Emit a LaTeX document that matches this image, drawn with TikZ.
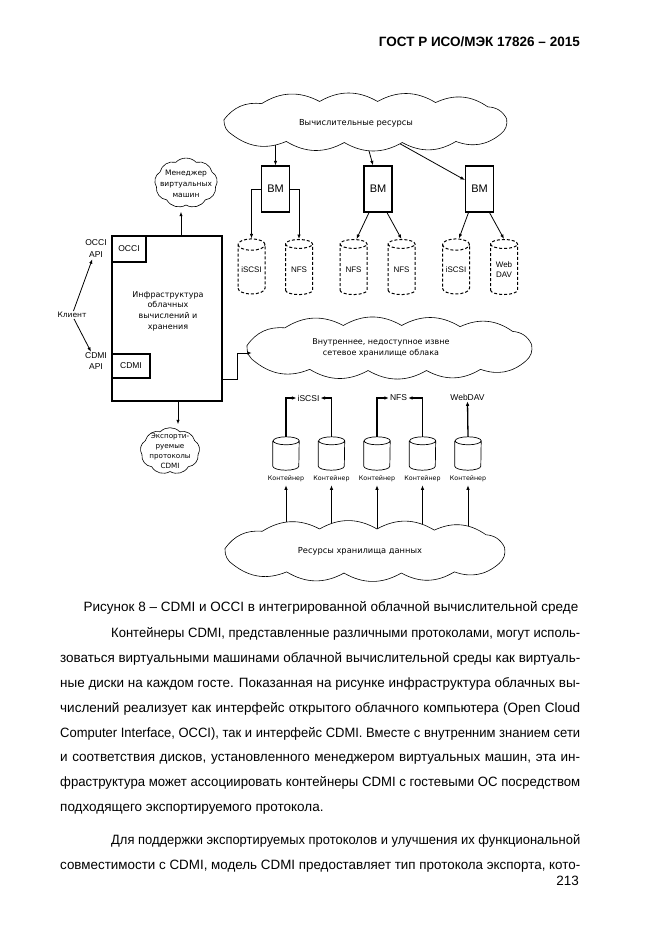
\documentclass[tikz,border=0pt]{standalone}
\usepackage{graphicx}
\usepackage{fontspec}
\setmainfont{Liberation Sans}
\newfontfamily\dejavu{DejaVu Sans}
\usetikzlibrary{shapes.geometric,arrows.meta,backgrounds}
\newsavebox\jbox
\newcommand\jl[2]{\sbox\jbox{#2}\ifdim\wd\jbox>#1\relax\resizebox{#1}{\height}{\usebox\jbox}\else\makebox[#1][s]{#2}\fi}
% small cloud: cx, cy, rx, ry, number of puffs, start angle, bend
\newcommand\drawcloud[7]{%
  \filldraw[cloudline] ({#1+#3*cos(#6)},{#2+#4*sin(#6)})
   \foreach \k in {1,...,#5}{ to[bend left=#7] ({#1+#3*cos(#6+360*\k/#5)},{#2+#4*sin(#6+360*\k/#5)}) } -- cycle;}
% wide cloud: cx, cy, rx, ry
\newcommand\widecloud[4]{%
  \filldraw[cloudline] ({#1+0.97*#3},{#2-0.15*#4})
   \foreach \px/\py in {0.93/0.55, 0.62/0.90, 0.25/0.95, -0.15/0.95, -0.55/0.90, -0.92/0.60, -0.98/-0.10, -0.72/-0.85, -0.32/-0.95, 0.08/-0.95, 0.48/-0.90, 0.84/-0.70, 0.97/-0.15}
   { to[bend left=30] ({#1+\px*#3},{#2+\py*#4}) } -- cycle;}
\begin{document}
\begin{tikzpicture}[x=1pt,y=-1pt,
  arr/.style={-{Latex[length=4.5pt,width=3.4pt]}, line width=0.8pt},
  tarr/.style={-{Latex[length=4.5pt,width=3.6pt]}, line width=1.3pt},
  cloudline/.style={draw=black, fill=white, line width=0.6pt, line join=miter},
  cref/.style={ellipse, inner sep=0pt},
  ctext/.style={font=\dejavu\fontsize{8.3}{10.5}\selectfont, align=center, inner sep=0pt},
  bmbox/.style={draw, line width=1.2pt, minimum width=28pt, minimum height=46pt, inner sep=0pt, font=\fontsize{11}{13}\selectfont},
  dcyl/.style={cylinder, shape border rotate=90, aspect=0.55, draw, line width=1pt, dash pattern=on 3pt off 2pt, minimum width=27pt, minimum height=55pt, inner sep=0pt, font=\fontsize{8}{9.5}\selectfont, align=center},
  kbox/.style={rectangle, minimum width=26pt, minimum height=33pt, inner sep=0pt},
  kline/.style={draw, line width=0.7pt},
  klab/.style={font=\dejavu\fontsize{6.3}{7}\selectfont, inner sep=1pt},
  plab/.style={font=\fontsize{8.5}{10}\selectfont, inner sep=1pt},
  body/.style={anchor=base west, inner sep=0pt, font=\fontsize{13.5}{16}\selectfont}
]
\useasboundingbox (0,0) rectangle (661,935);

% header
\node[anchor=base east, inner sep=0pt, font=\bfseries\fontsize{13.5}{16}\selectfont] (hdr) at (580,46) {ГОСТ Р ИСО/МЭК 17826 – 2015};

% VMs
\node[bmbox] (bm1) at (275.5,189) {ВМ};
\node[bmbox] (bm2) at (378,189) {ВМ};
\node[bmbox] (bm3) at (479.5,189) {ВМ};

% containers
\foreach \i/\x in {1/286,2/331.5,3/377,4/422.5,5/468}{
  \node[kbox] (k\i) at (\x,453.5) {};
  \draw[kline] ([yshift=-4pt]k\i.north west) -- ([yshift=4pt]k\i.south west)
     arc[start angle=180, end angle=360, x radius=13pt, y radius=4pt]
     -- ([yshift=-4pt]k\i.north east)
     arc[start angle=0, end angle=360, x radius=13pt, y radius=4pt];
  \node[klab] (kl\i) at (\x,479) {Контейнер};
}

% arrows that start inside clouds (hidden behind the white cloud fill)
\begin{scope}[on background layer]
  \fill[white] (0,0) rectangle (661,935);
  \draw[arr] (bm1.north |- 0,130) -- (bm1.north);
  \draw[arr] (366,140) -- ([xshift=-5pt]bm2.north);
  \draw[arr] (396,141.5) -- ([yshift=9pt]bm3.west);
  \foreach \i in {1,...,5}{
    \draw[arr] (kl\i.south |- 0,540) -- ([yshift=-2pt]kl\i.south);
  }
\end{scope}

% top cloud
\widecloud{366}{122}{145}{21.6}
\node[cref, minimum width=288pt, minimum height=55pt] (comp) at (366,122) {};
\node[ctext] (comptxt) at (356,123) {Вычислительные ресурсы};

% dashed cylinders
\node[dcyl] (c1) at (251.5,269.5) {iSCSI};
\node[dcyl] (c2) at (299,269.5) {NFS};
\node[dcyl] (c3) at (353.5,269.5) {NFS};
\node[dcyl] (c4) at (401.5,269.5) {NFS};
\node[dcyl] (c5) at (456,269.5) {iSCSI};
\node[dcyl] (c6) at (504,269.5) {Web\\DAV};
\draw[arr] (bm1.west) -| (c1.north);
\draw[arr] (bm1.east) -| (c2.north);
\draw[arr] ([xshift=-9pt]bm2.south) -- ([xshift=3pt]c3.north);
\draw[arr] ([xshift=9pt]bm2.south) -- (c4.north);
\draw[arr] ([xshift=-11pt]bm3.south) -- ([xshift=3pt]c5.north);
\draw[arr] ([xshift=10pt]bm3.south) -- (c6.north);

% manager cloud
\drawcloud{186}{183}{30}{22}{9}{10}{45}
\node[cref, minimum width=72pt, minimum height=57pt] (mgr) at (186,183) {};
\node[ctext, font=\dejavu\fontsize{7.5}{10.8}\selectfont] (mgrtxt) at (186,184) {Менеджер\\виртуальных\\машин};

% infrastructure box
\node[draw, line width=1.2pt, minimum width=110pt, minimum height=165pt, inner sep=0pt] (infra) at (167,318.5) {};
\node[ctext, font=\dejavu\fontsize{8}{10.7}\selectfont] (infratxt) at (168,311) {Инфраструктура\\облачных\\вычислений и\\хранения};
\node[draw, line width=1.2pt, minimum width=34pt, minimum height=26pt, inner sep=0pt, font=\fontsize{8.5}{10}\selectfont] (occi) at (129,249) {OCCI};
\node[draw, line width=1.2pt, minimum width=38pt, minimum height=24pt, inner sep=0pt, font=\fontsize{8.5}{10}\selectfont] (cdmi) at (131,366) {CDMI};
\node[align=center, font=\fontsize{8.5}{12}\selectfont, inner sep=1pt] (occiapi) at (96,249) {OCCI\\API};
\node[align=center, font=\fontsize{8.5}{11}\selectfont, inner sep=1pt] (cdmiapi) at (96,361.5) {CDMI\\API};
\node[ctext, font=\dejavu\fontsize{7.5}{9}\selectfont, inner sep=1pt] (client) at (72,315) {Клиент};
\draw[arr] (client) -- (occiapi);
\draw[arr] (client) -- (cdmiapi);
\draw[arr] ([xshift=14pt]infra.north) -- ([xshift=14pt]infra.north |- mgr.south);

% export cloud
\drawcloud{170}{451}{28.5}{20.5}{9}{10}{45}
\node[cref, minimum width=69pt, minimum height=53pt] (export) at (170,451) {};
\node[ctext, font=\dejavu\fontsize{7.2}{10}\selectfont] (exporttxt) at (170,451) {Экспорти-\\руемые\\протоколы\\CDMI};
\draw[arr] ([xshift=11pt]infra.south) -- ([xshift=11pt]infra.south |- export.north);

% internal cloud
\widecloud{390}{348}{146}{23.7}
\node[cref, minimum width=290pt, minimum height=59pt] (intcloud) at (390,348) {};
\node[ctext, font=\dejavu\fontsize{8}{10.5}\selectfont] (inttxt) at (381,348) {Внутреннее, недоступное извне\\сетевое хранилище облака};
\draw[arr] ([yshift=-60.5pt]infra.east) -- ++(15,0) |- ([shift={(7pt,-5pt)}]intcloud.west);

% protocols
\node[plab] (iscsi) at (308.5,398) {iSCSI};
\node[plab] (nfs) at (398.5,398) {NFS};
\node[plab] (webdav) at (467.5,397) {WebDAV};
\draw[tarr] (k1.north) |- (iscsi.west);
\draw[tarr] (k2.north) |- (iscsi.east);
\draw[tarr] (k3.north) |- (nfs.west);
\draw[tarr] (k4.north) |- (nfs.east);
\draw[tarr] (k5.north) -- (webdav.south);

% data cloud
\widecloud{365.5}{551}{143.4}{23.2}
\node[cref, minimum width=285pt, minimum height=58pt] (data) at (365.5,551) {};
\node[ctext] (datatxt) at (360,551) {Ресурсы хранилища данных};

% caption and body text
\node[anchor=base, inner sep=0pt, font=\fontsize{13.5}{16}\selectfont] (cap) at (331,611) {Рисунок 8 – CDMI и OCCI в интегрированной облачной вычислительной среде};
\node[body] (l1) at (111,637) {\jl{469pt}{Контейнеры CDMI, представленные различными протоколами, могут исполь-}};
\node[body] (l2) at (60,662) {\jl{520pt}{зоваться виртуальными машинами облачной вычислительной среды как виртуаль-}};
\node[body] (l3) at (60,687) {\jl{520pt}{ные диски на каждом госте. Показанная на рисунке инфраструктура облачных вы-}};
\node[body] (l4) at (60,712) {\jl{520pt}{числений реализует как интерфейс открытого облачного компьютера (Open Cloud}};
\node[body] (l5) at (60,737) {\jl{520pt}{Computer Interface, OCCI), так и интерфейс CDMI. Вместе с внутренним знанием сети}};
\node[body] (l6) at (60,761) {\jl{520pt}{и соответствия дисков, установленного менеджером виртуальных машин, эта ин-}};
\node[body] (l7) at (60,786) {\jl{520pt}{фраструктура может ассоциировать контейнеры CDMI с гостевыми ОС посредством}};
\node[body] (l8) at (60,811) {подходящего экспортируемого протокола.};
\node[body] (l9) at (111,844) {\jl{469pt}{Для поддержки экспортируемых протоколов и улучшения их функциональной}};
\node[body] (l10) at (60,869) {\jl{520pt}{совместимости с CDMI, модель CDMI предоставляет тип протокола экспорта, кото-}};
\node[anchor=base east, inner sep=0pt, font=\fontsize{13.5}{16}\selectfont] (pagenum) at (579,885) {213};
\end{tikzpicture}
\end{document}
